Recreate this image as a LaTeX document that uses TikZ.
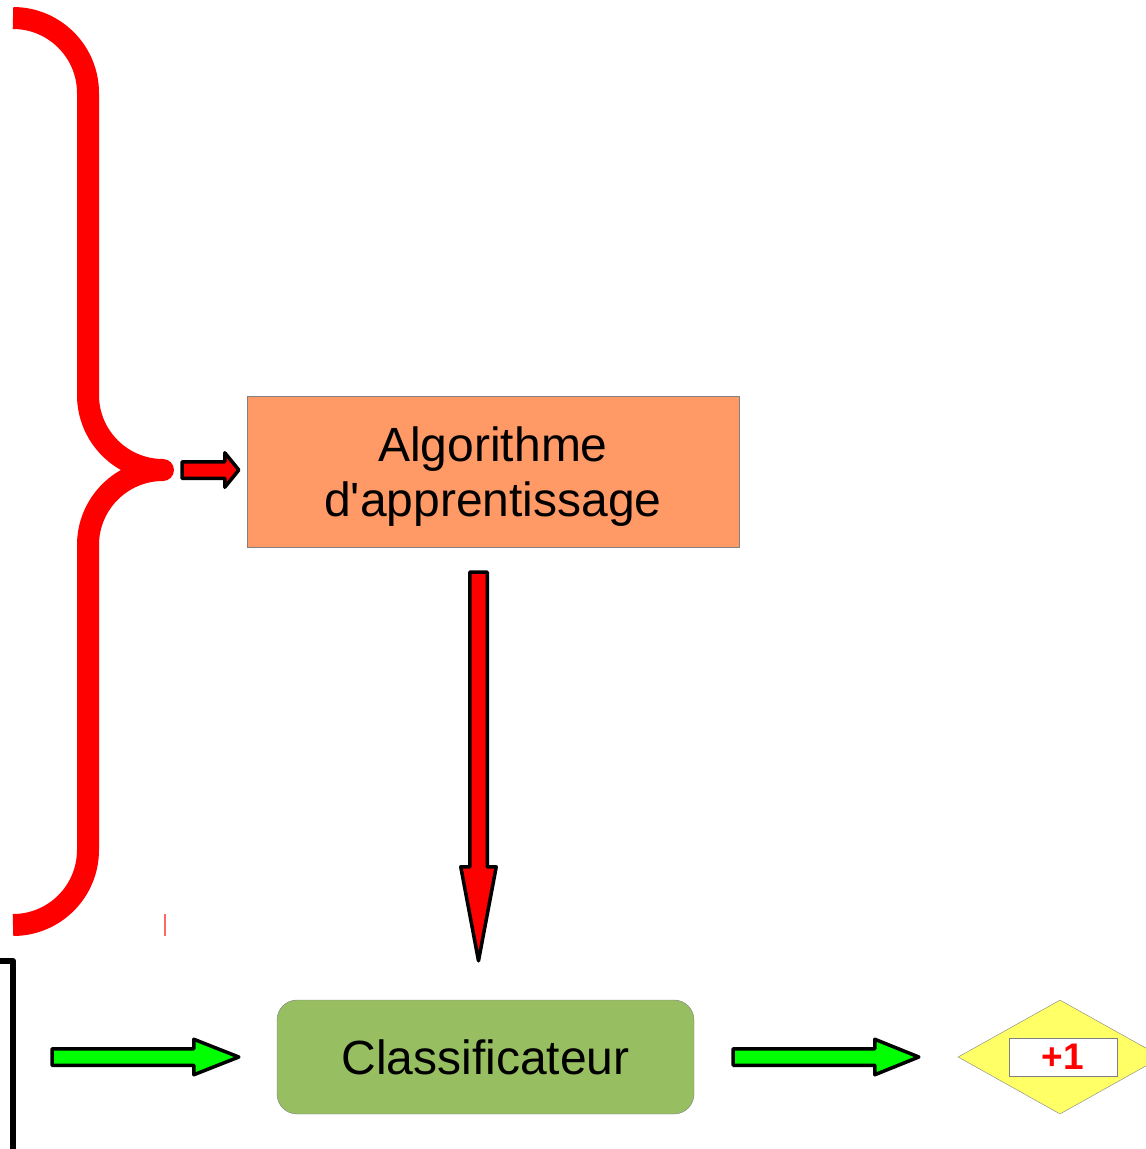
\documentclass[tikz,border=0pt]{standalone}
\usepackage{fontspec}
\setmainfont{Liberation Sans}
\usetikzlibrary{calc, positioning}
\usetikzlibrary{shapes.geometric}

\definecolor{algoOrange}{RGB}{255,153,102}
\definecolor{classGreen}{RGB}{151,190,96}
\definecolor{resultYellow}{RGB}{255,255,102}
\definecolor{arrowGreen}{RGB}{0,255,0}
\definecolor{edgeGray}{RGB}{128,128,128}

\tikzset{
  boxtext/.style={font=\fontsize{48}{55}\selectfont, align=center, inner sep=0pt},
  arrowbody/.style={draw=black, line width=3.5pt, line join=round},
}

% #1 fill, #2 start, #3 end, #4 half shaft, #5 half head, #6 head length
\newcommand{\blockarrow}[6]{%
  \draw[arrowbody, fill=#1]
    let \p1=($(#3)-(#2)$), \n1={atan2(\y1,\x1)}, \n2={veclen(\x1,\y1)} in
    [shift={(#2)}, rotate=\n1]
    (0pt,{#4*1pt}) -- ({(\n2-#6)*1pt},{#4*1pt}) -- ({(\n2-#6)*1pt},{#5*1pt})
    -- ({\n2*1pt},0pt)
    -- ({(\n2-#6)*1pt},{-#5*1pt}) -- ({(\n2-#6)*1pt},{-#4*1pt}) -- (0pt,{-#4*1pt}) -- cycle;}

\begin{document}
\begin{tikzpicture}[x=1pt, y=-1pt]
\useasboundingbox (0,0) rectangle (1146,1149);

\def\braceWidth{22pt}
\def\braceRad{75pt}

\coordinate (tip) at (163,470);
\coordinate (bracket) at (13,1057);

\draw[red, line width=\braceWidth, rounded corners=\braceRad]
  (13,18) -- (88,18) -- (88,470) -- (tip);
\draw[red, line width=\braceWidth, rounded corners=\braceRad]
  (tip) -- (88,470) -- (88,925) -- (13,925);
\fill[red] (tip) circle[radius=11pt];
\draw[red!60, line width=2pt] (165,914) -- (165,936);

\draw[line width=6pt, line join=round] (0,961) -- (13,961) -- (13,1160);

\node[draw=edgeGray, fill=algoOrange, minimum width=492pt, minimum height=151pt]
  (algo) at (493,471.5) {};
\node[boxtext] (algotext) at ($(algo.center)+(0,5)$)
  {Algorithme\\d\textquotesingle apprentissage};
\node[draw=edgeGray, fill=classGreen, rounded corners=20pt, minimum width=417pt,
  minimum height=114pt, boxtext] (classif) at (485.5,1057) {Classificateur};
\node[diamond, draw=edgeGray, fill=resultYellow, minimum width=204pt, minimum height=114pt,
  inner sep=0pt] (result) at (1060,1057) {};
\node[draw=edgeGray, fill=white, minimum width=108pt, minimum height=38pt, inner sep=0pt,
  text=red, font=\fontsize{37}{40}\selectfont\bfseries]
  (score) at ($(result.center)+(3,0)$) {+1};

\coordinate (a1s) at ($(tip)+(19,0)$);
\coordinate (a1e) at ($(a1s -| algo.west)+(-8,0)$);
\coordinate (a2s) at ($(algo.south)+(-14.5,25)$);
\coordinate (a2e) at ($(a2s |- classif.north)+(0,-39)$);
\coordinate (a3s) at ($(bracket)+(39,0)$);
\coordinate (a3e) at ($(classif.west)+(-38,0)$);
\coordinate (a4s) at ($(classif.east)+(39,0)$);
\coordinate (a4e) at ($(result.west)+(-39,0)$);

\blockarrow{red}{a1s}{a1e}{8.25}{17.25}{14}
\blockarrow{red}{a2s}{a2e}{8.75}{17.75}{94}
\blockarrow{arrowGreen}{a3s}{a3e}{8.25}{17.75}{45}
\blockarrow{arrowGreen}{a4s}{a4e}{8.25}{17.75}{44}
\end{tikzpicture}
\end{document}
